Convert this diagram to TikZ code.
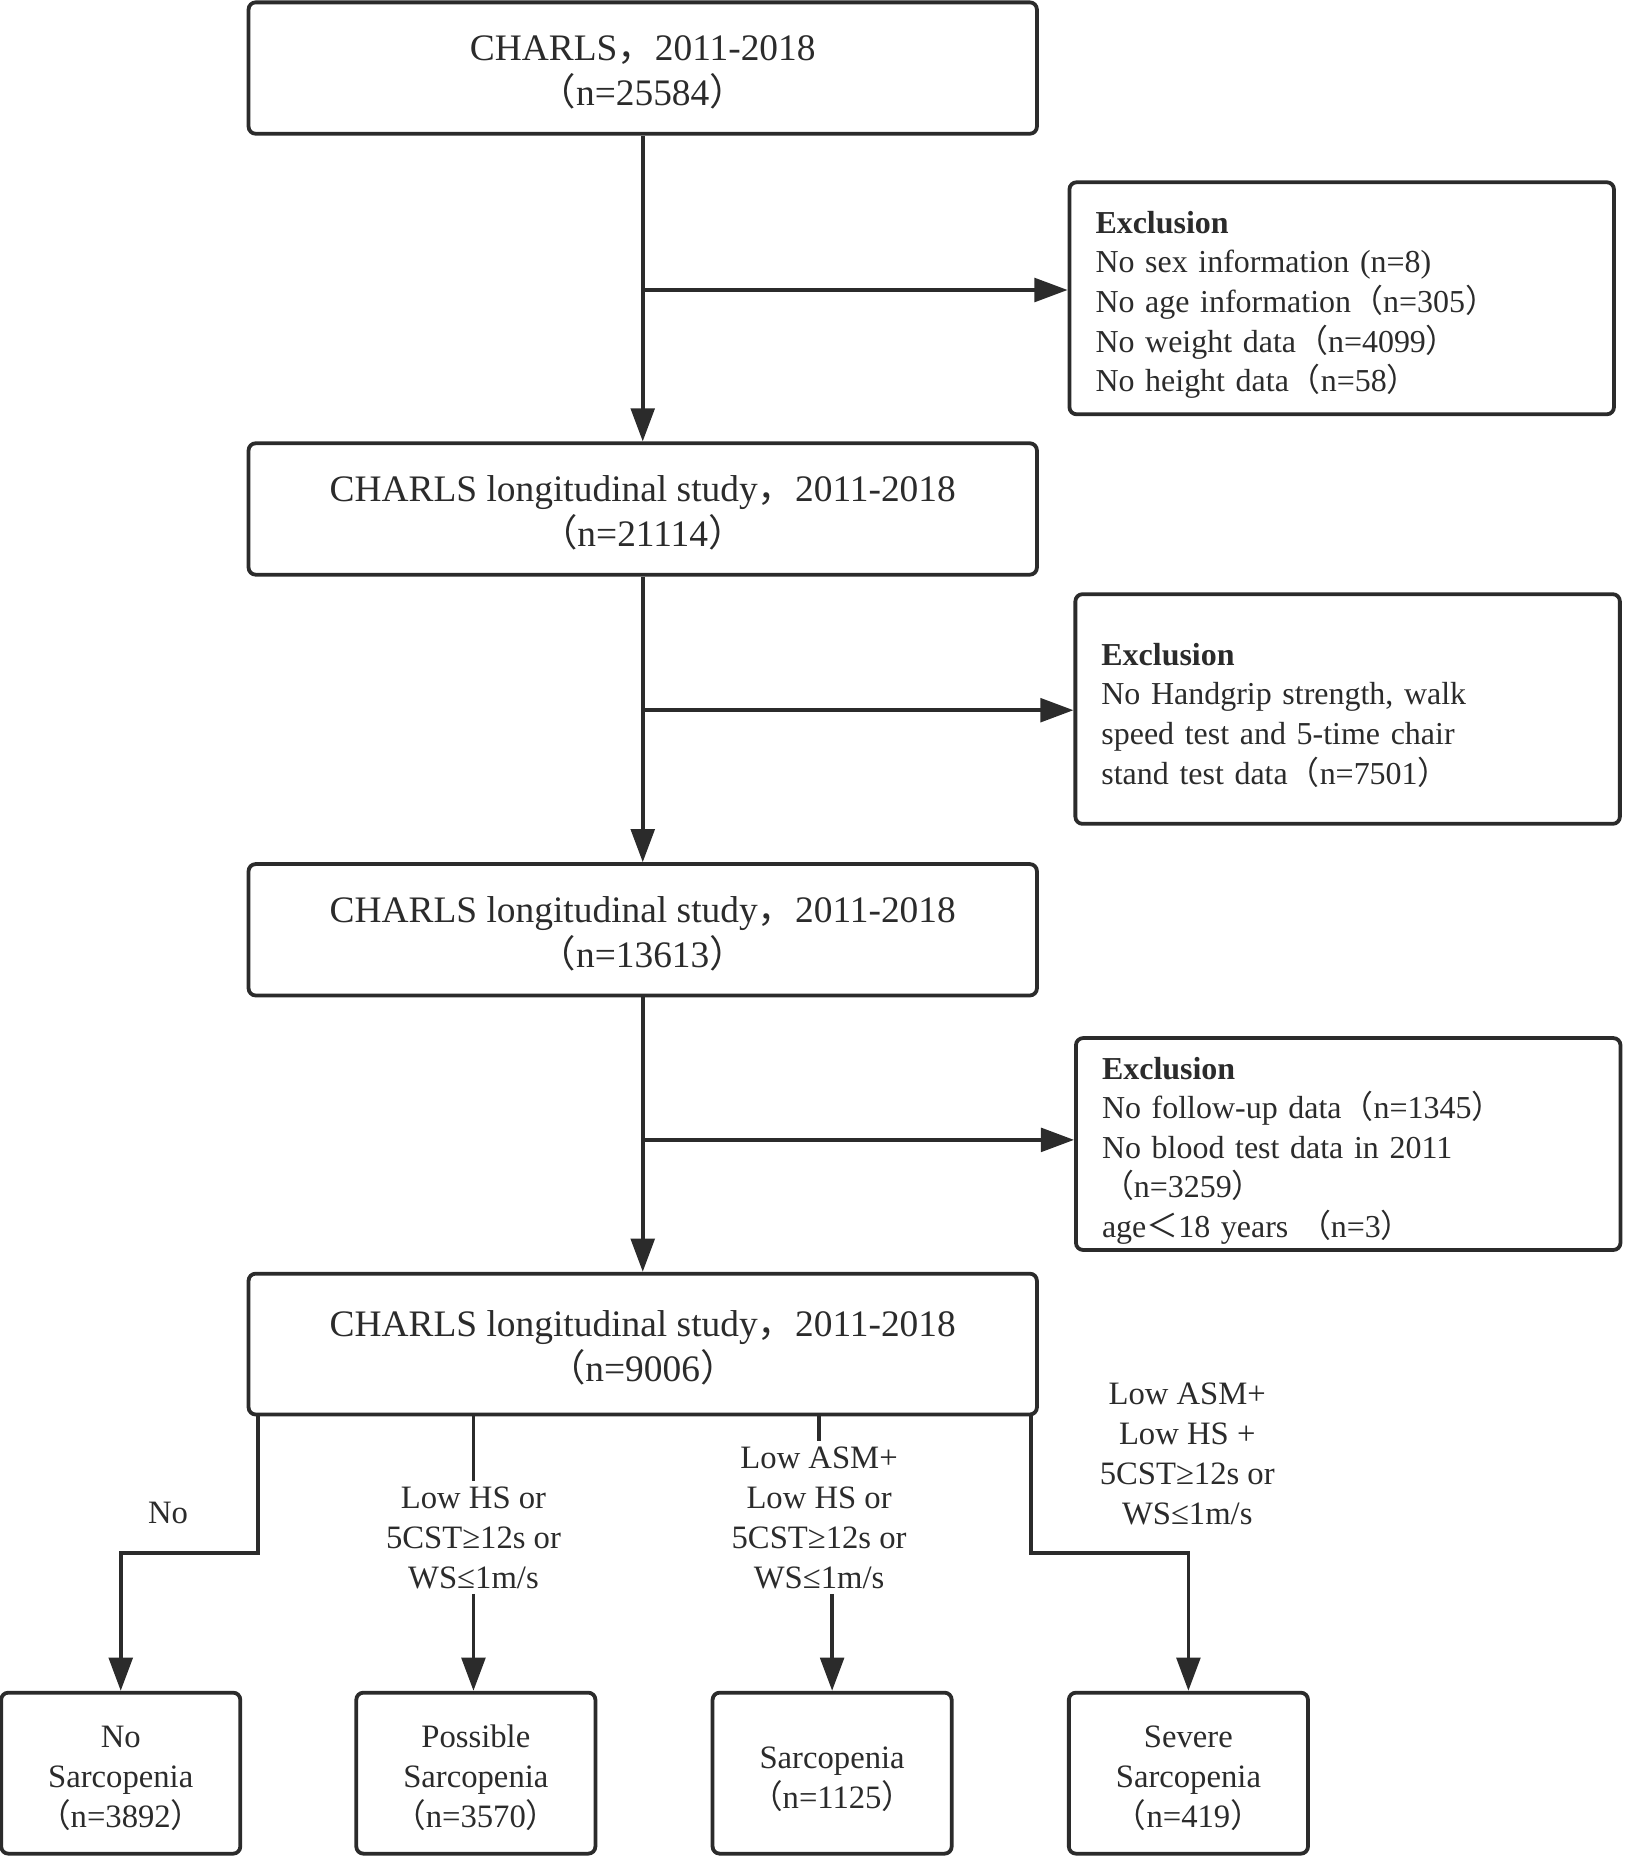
\documentclass[tikz,border=0pt]{standalone}
\usepackage{fontspec}
\setmainfont{Liberation Serif}
\newfontfamily\cjk{Noto Sans CJK SC}
\newcommand{\lpar}{{\cjk （}}
\newcommand{\rpar}{{\cjk ）}}
\newcommand{\fcomma}{{\cjk ，}}
\newcommand{\fless}{{\cjk ＜}}
\newcommand{\topgap}[1]{\rule{0pt}{#1}}
\usetikzlibrary{arrows.meta,calc}
\definecolor{ink}{HTML}{2B2B2B}
\tikzset{
  mainbox/.style={draw=ink, line width=1.6pt, rounded corners=3pt, inner sep=0pt,
    minimum width=333pt, minimum height=55.5pt, align=center, text=ink,
    font=\fontsize{15.8}{19}\selectfont},
  exbox/.style={draw=ink, line width=1.6pt, rounded corners=3pt, inner xsep=11pt, inner ysep=0pt,
    text width=208pt, align=left, text=ink, font=\fontsize{13.5}{16.75}\selectfont},
  endbox/.style={draw=ink, line width=1.6pt, rounded corners=3pt, inner sep=0pt,
    minimum width=101pt, minimum height=68pt, align=center, text=ink,
    font=\fontsize{13.8}{16.9}\selectfont},
  lbl/.style={align=center, text=ink, inner sep=2pt, font=\fontsize{13.8}{16.9}\selectfont},
  conn/.style={draw=ink, line width=1.5pt},
  arr/.style={conn, -{Triangle[length=14pt,width=10pt]}}
}
\begin{document}
\begin{tikzpicture}[x=0.5pt,y=-0.5pt]
\useasboundingbox (0,0) rectangle (1373,1568);
% main boxes
\node[mainbox] (n1) at (543,57.5) {\topgap{14.4pt}CHARLS\fcomma 2011-2018\\\lpar n=25584\rpar};
\node[mainbox] (n2) at (543,430) {\topgap{14.4pt}CHARLS longitudinal study\fcomma 2011-2018\\\lpar n=21114\rpar};
\node[mainbox] (n3) at (543,785.5) {\topgap{14.4pt}CHARLS longitudinal study\fcomma 2011-2018\\\lpar n=13613\rpar};
\node[mainbox, minimum height=59.5pt] (n4) at (543,1135.5) {\topgap{14.4pt}CHARLS longitudinal study\fcomma 2011-2018\\\lpar n=9006\rpar};
% exclusion boxes
\node[exbox, minimum height=98pt] (e1) at (1133.5,252) {\topgap{15pt}\textbf{Exclusion}\\No sex information (n=8)\\No age information\lpar n=305\rpar\\No weight data\lpar n=4099\rpar\\No height data\lpar n=58\rpar};
\node[exbox, minimum height=97pt] (e2) at (1138.5,599) {\topgap{14.5pt}\textbf{Exclusion}\\No Handgrip strength, walk\\speed test and 5-time chair\\stand test data\lpar n=7501\rpar};
\node[exbox, minimum height=89.5pt] (e3) at (1139,966.5) {\topgap{15pt}\textbf{Exclusion}\\No follow-up data\lpar n=1345\rpar\\No blood test data in 2011\\\lpar n=3259\rpar\\age\fless 18 years \lpar n=3\rpar};
% end boxes
\node[endbox] (b1) at (102,1498) {\topgap{13.5pt}No\\Sarcopenia\\\lpar n=3892\rpar};
\node[endbox] (b2) at (402,1498) {\topgap{13.5pt}Possible\\Sarcopenia\\\lpar n=3570\rpar};
\node[endbox] (b3) at (703,1498) {\topgap{14.5pt}Sarcopenia\\\lpar n=1125\rpar};
\node[endbox] (b4) at (1004,1498) {\topgap{13.5pt}Severe\\Sarcopenia\\\lpar n=419\rpar};
% trunk
\draw[arr] (n1.south) -- (n2.north);
\draw[arr] (n2.south) -- (n3.north);
\draw[arr] (n3.south) -- (n4.north);
\coordinate (j1) at (543,245);
\coordinate (j2) at (543,600);
\coordinate (j3) at (543,963);
\draw[arr] (j1) -- (j1 -| e1.west);
\draw[arr] (j2) -- (j2 -| e2.west);
\draw[arr] (j3) -- (j3 -| e3.west);
% labels
\node[lbl] (l1) at (142,1278) {No};
\node[lbl] (l2) at (400,1299) {Low HS or\\5CST≥12s or\\WS≤1m/s};
\node[lbl] (l3) at (692,1282) {Low ASM+\\Low HS or\\5CST≥12s or\\WS≤1m/s};
\node[lbl] (l4) at (1003,1228) {Low ASM+\\Low HS +\\5CST≥12s or\\WS≤1m/s};
% branches
\coordinate (k1) at (218,1312);
\coordinate (k4) at (871,1312);
\draw[arr] (n4.south -| k1) -- (k1) -| (b1.north);
\draw[conn] (n4.south -| l2) -- (l2.north);
\draw[arr] (l2.south) -- (b2.north -| l2);
\draw[conn] (n4.south -| l3) -- (l3.north);
\draw[arr] (l3.south -| b3) -- (b3.north);
\draw[arr] (n4.south -| k4) -- (k4) -| (b4.north);
\end{tikzpicture}
\end{document}
